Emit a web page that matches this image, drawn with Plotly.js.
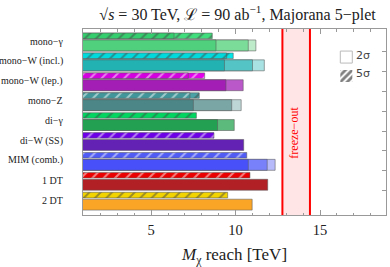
<!DOCTYPE html>
<html>
<head>
<meta charset="utf-8">
<script src="https://cdn.plot.ly/plotly-3.0.1.min.js"></script>
<style>html,body{margin:0;padding:0;background:#fff;}#chart{width:390px;height:267px;}</style>
</head>
<body>
<div id="chart"></div>
<script>
// ---- data ----
const processes = ["mono−γ","mono−W (incl.)","mono−W (lep.)","mono−Z","di−γ","di−W (SS)","MIM (comb.)","1 DT","2 DT"];
// 2σ reach, three nested levels (darkest = shortest)
const twoSigmaA = [8.84, 9.34, 9.43, 7.50, 8.93, 10.48, 10.75, 11.90, 10.98];
const twoSigmaB = [10.75, 11.00, 10.45, 9.77, 9.92, null, 11.87, null, null];
const twoSigmaC = [11.20, 11.70, null, 10.33, null, null, 12.34, null, null];
// 5σ reach, two nested levels
const fiveSigmaA = [6.36, 9.47, 7.20, 7.30, null, null, null, null, null];
const fiveSigmaB = [8.62, 9.86, 8.17, 7.85, 7.68, 8.72, 10.66, 10.85, 9.53];
// freeze-out band
const freezeOut = [12.77, 14.40];
const xTicks = [5, 10, 15];
const legendLabels = ["2σ", "5σ"];

// ---- styles ----
const colA = ["rgb(80,208,124)","rgb(34,178,178)","rgb(163,30,180)","rgb(76,134,134)","rgb(36,160,82)","rgb(100,34,180)","rgb(72,80,250)","rgb(176,32,36)","rgb(250,165,38)"];
const colB = ["rgb(122,220,152)","rgb(84,196,196)","rgb(186,88,202)","rgb(122,166,166)","rgb(92,186,124)","rgb(100,34,180)","rgb(120,128,250)","rgb(176,32,36)","rgb(250,165,38)"];
const colC = ["rgb(190,236,202)","rgb(168,226,226)","rgb(186,88,202)","rgb(190,214,214)","rgb(92,186,124)","rgb(100,34,180)","rgb(182,186,250)","rgb(176,32,36)","rgb(250,165,38)"];
const hatA = ["rgb(52,206,110)","rgb(0,218,220)","rgb(212,0,224)","rgb(64,150,154)","rgb(0,208,92)","rgb(110,0,232)","rgb(76,88,240)","rgb(232,0,0)","rgb(240,208,0)"];
const hatB = ["rgb(64,222,124)","rgb(0,232,232)","rgb(228,0,236)","rgb(74,162,166)","rgb(0,214,96)","rgb(110,0,232)","rgb(80,92,244)","rgb(234,0,0)","rgb(242,212,0)"];

const rows = processes.map((_, i) => i);
const solidW = 0.55, hatchW = 0.28, hatchOff = -0.48;
const outline = {color: "rgba(90,90,90,0.55)", width: 1};

function solid(vals, cols) {
  return {type: "bar", orientation: "h", x: vals, y: rows, width: solidW,
    marker: {color: cols, line: outline}, showlegend: false, hoverinfo: "skip"};
}
function hatch(vals, cols) {
  return {type: "bar", orientation: "h", x: vals, y: rows.map(r => r + hatchOff), width: hatchW,
    marker: {color: cols, line: outline,
      pattern: {shape: "/", fillmode: "overlay", fgcolor: "white", size: 8, solidity: 0.25}},
    showlegend: false, hoverinfo: "skip"};
}

const traces = [
  solid(twoSigmaC, colC), solid(twoSigmaB, colB), solid(twoSigmaA, colA),
  hatch(fiveSigmaB, hatB), hatch(fiveSigmaA, hatA),
  {type: "bar", orientation: "h", x: [null], y: [null], name: " ",
   marker: {color: "white", line: {color: "#bbb", width: 1}}},
  {type: "bar", orientation: "h", x: [null], y: [null], name: "  ",
   marker: {color: "white", line: {color: "white", width: 0},
     pattern: {shape: "/", fillmode: "overlay", bgcolor: "white", fgcolor: "black", size: 6, solidity: 0.6}}},
  {type: "scatter", x: [null], y: [null], yaxis: "y2", showlegend: false, hoverinfo: "skip"}
];

const serif = "Liberation Serif";
const catLabels = processes.map((p, i) => ({
  text: p, xref: "paper", yref: "y", x: 0, y: rows[i] - 0.22, xanchor: "right", yanchor: "middle",
  xshift: -18, showarrow: false, font: {family: serif, size: 10, color: "#222"}
}));
const legendText = legendLabels.map((t, i) => ({
  text: t, xref: "paper", yref: "paper", x: 0.895, y: 0.855 - i * 0.093, xanchor: "left", yanchor: "middle",
  showarrow: false, font: {family: "DejaVu Sans", size: 11, color: "#444"}
}));

const layout = {
  width: 390, height: 267,
  margin: {l: 83, r: 4, t: 29, b: 52},
  paper_bgcolor: "white", plot_bgcolor: "white",
  barmode: "overlay", bargap: 0,
  title: {text: "√<i>s</i> = 30 TeV, ℒ = 90 ab<sup>−1</sup>, Majorana 5−plet",
    font: {family: serif, size: 16, color: "#222"}, x: 0.51, xref: "paper",
    y: 1 - 14 / 267, yref: "container", yanchor: "middle"},
  xaxis: {range: [0.97, 18.9], tickvals: xTicks, ticks: "inside", ticklen: 5, tickcolor: "#999",
    showline: true, linecolor: "#999", linewidth: 1, mirror: "ticks", showgrid: false, zeroline: false,
    minor: {dtick: 1, ticks: "inside", ticklen: 2.5, tickcolor: "#999", showgrid: false},
    ticklabelstandoff: 2,
    tickfont: {family: serif, size: 14.5, color: "#222"},
    title: {text: "<i>M</i><sub>χ</sub> reach [TeV]", font: {family: serif, size: 17, color: "#222"}, standoff: 11}},
  yaxis: {range: [8.52, -0.825], showticklabels: false, ticks: "",
    showline: true, linecolor: "#999", linewidth: 1, mirror: true, showgrid: false, zeroline: false},
  yaxis2: {overlaying: "y", side: "right", range: [8.52, -0.825], tickvals: rows.slice(0, 8).map(r => r + 0.3),
    ticks: "inside", ticklen: 4, tickcolor: "#999", showticklabels: false, showgrid: false, zeroline: false,
    showline: false},
  legend: {x: 0.803, y: 0.927, xanchor: "left", yanchor: "top", bgcolor: "rgba(0,0,0,0)",
    font: {family: "DejaVu Sans", size: 11, color: "#333"}, tracegroupgap: 0},
  shapes: [
    {type: "rect", xref: "x", yref: "paper", x0: freezeOut[0], x1: freezeOut[1], y0: 0, y1: 1,
     fillcolor: "rgba(255,0,0,0.1)", line: {width: 0}, layer: "below"},
    {type: "line", xref: "x", yref: "paper", x0: freezeOut[0], x1: freezeOut[0], y0: 0, y1: 1, line: {color: "red", width: 2}},
    {type: "line", xref: "x", yref: "paper", x0: freezeOut[1], x1: freezeOut[1], y0: 0, y1: 1, line: {color: "red", width: 2}}
  ],
  annotations: [
    {text: "freeze−out", xref: "x", yref: "paper", x: (freezeOut[0] + freezeOut[1]) / 2, y: 0.4435,
     xshift: -3, showarrow: false, textangle: -90, font: {family: serif, size: 12, color: "red"}}
  ].concat(catLabels, legendText)
};

Plotly.newPlot("chart", traces, layout, {displayModeBar: false, staticPlot: true});
</script>
</body>
</html>
